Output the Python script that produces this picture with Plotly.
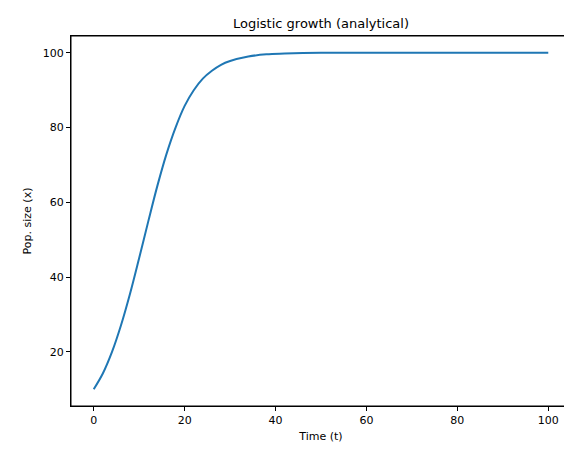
import plotly.graph_objects as go

t = [0, 2, 4, 6, 8, 10, 12, 14, 16, 18, 20, 22, 24, 26, 28, 30, 34, 38, 42, 50, 60, 70, 80, 90, 100]
x = [10, 14.2, 19.9, 27.1, 35.6, 45.1, 54.9, 64.4, 72.9, 80.0, 85.8, 90.0, 93.1, 95.2, 96.8, 97.8,
     99.0, 99.6, 99.8, 100, 100, 100, 100, 100, 100]

fig = go.Figure(go.Scatter(x=t, y=x, mode="lines", line=dict(color="#1f77b4", width=2, shape="spline")))
ax = dict(showgrid=False, zeroline=False, showline=True, linecolor="black", linewidth=1, mirror=True,
          ticks="outside", ticklen=4, tickcolor="black", tickfont=dict(size=11, color="black"),
          automargin=False)
fig.update_layout(
    width=572, height=454, margin=dict(l=63, r=9, t=28, b=56, autoexpand=False),
    paper_bgcolor="white", plot_bgcolor="white",
    font=dict(family="DejaVu Sans", color="black"),
    title=dict(text="Logistic growth (analytical)", x=0.5, xanchor="center", xref="paper",
               yref="container", y=0.975, yanchor="top", font=dict(size=13)),
    xaxis=dict(**ax, range=[-5, 105], tickvals=[0, 20, 40, 60, 80, 100],
               title=dict(text="Time (t)", font=dict(size=11), standoff=6)),
    yaxis=dict(**ax, range=[5.5, 104.5], tickvals=[20, 40, 60, 80, 100],
               title=dict(text="Pop. size (x)", font=dict(size=11), standoff=8)),
    shapes=[dict(type="rect", xref="paper", yref="paper", x0=0, y0=0, x1=1, y1=1,
                 line=dict(color="black", width=1), layer="above")],
    showlegend=False,
)
fig.write_html("out.html")
